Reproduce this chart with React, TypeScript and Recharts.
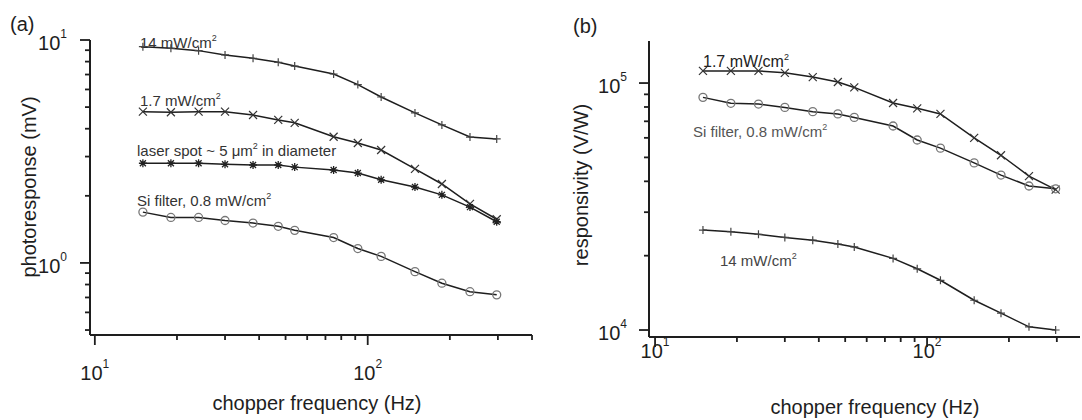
import { LineChart, Line, XAxis, YAxis } from "recharts"

const FONT = '"Liberation Sans", Arial, Helvetica, sans-serif'
const INK = "#1e1e1e"

// chopper frequency (Hz), shared by every curve
const freqs = [15, 19, 24, 30, 38, 47, 54, 75, 92, 112, 149, 187, 237, 297]

// (a) photoresponse (mV)
const a14 = [9.33, 9.18, 8.96, 8.57, 8.28, 7.94, 7.64, 7.04, 6.31, 5.55, 4.71, 4.16, 3.67, 3.6]
const a17 = [4.77, 4.74, 4.77, 4.77, 4.61, 4.38, 4.25, 3.68, 3.45, 3.21, 2.64, 2.26, 1.84, 1.57]
const aLaser = [2.8, 2.8, 2.8, 2.77, 2.75, 2.75, 2.69, 2.61, 2.53, 2.36, 2.19, 2.02, 1.78, 1.53]
const aSi = [1.69, 1.6, 1.6, 1.55, 1.51, 1.46, 1.4, 1.3, 1.16, 1.07, 0.914, 0.811, 0.743, 0.719]

// (b) responsivity (V/W)
const b17 = [112000, 112000, 112000, 110000, 105700, 101000, 96000, 83000, 79000, 75000, 60000, 51000, 42000, 37000]
const bSi = [87500, 82800, 82200, 79700, 76600, 75000, 72600, 67000, 58800, 54500, 47500, 42400, 38300, 37300]
const b14 = [25400, 25000, 24400, 23700, 23100, 22300, 21700, 19500, 17700, 15900, 13200, 11700, 10300, 10000]

const xTicksA = [10, 20, 30, 40, 50, 60, 70, 80, 90, 100, 200, 300, 400]
const xTicksB = [10, 20, 30, 40, 50, 60, 70, 80, 90, 100, 200, 300]
const yTicksA = [0.5, 0.6, 0.7, 0.8, 0.9, 1, 2, 3, 4, 5, 6, 7, 8, 9, 10]
const yTicksB = [10000, 20000, 30000, 40000, 50000, 60000, 70000, 80000, 90000, 100000]

const dataA = freqs.map((f, i) => ({ f, s14: a14[i], s17: a17[i], laser: aLaser[i], si: aSi[i] }))
const dataB = freqs.map((f, i) => ({ f, s14: b14[i], s17: b17[i], si: bSi[i] }))

const isMajor = (v: number) => Math.abs(Math.log10(v) - Math.round(Math.log10(v))) < 1e-6

// tick props x/y sit tickSize + tickMargin (5 + 2) away from the axis line
const OFF = 7

const makeXTick = (labelDy: number) => (props: any) => {
  const { x, y, payload } = props
  const v = payload.value
  const axisY = y - OFF
  const major = isMajor(v)
  return (
    <g>
      <line x1={x} x2={x} y1={axisY} y2={axisY + (major ? 10 : 5)} stroke={INK} strokeWidth={1.8} />
      {major && (
        <text x={x} y={axisY + labelDy} textAnchor="middle" dominantBaseline="central" fontSize={20} fill={INK} fontFamily={FONT}>
          10
          <tspan dy={-9} fontSize={12}>{Math.round(Math.log10(v))}</tspan>
        </text>
      )}
    </g>
  )
}

const makeYTick = (labelDx: number) => (props: any) => {
  const { x, y, payload } = props
  const v = payload.value
  const axisX = x + OFF
  const major = isMajor(v)
  return (
    <g>
      <line x1={axisX} x2={axisX - (major ? 10 : 5)} y1={y} y2={y} stroke={INK} strokeWidth={1.8} />
      {major && (
        <text x={axisX - labelDx} y={y + 3} textAnchor="end" dominantBaseline="central" fontSize={20} fill={INK} fontFamily={FONT}>
          10
          <tspan dy={-9} fontSize={12}>{Math.round(Math.log10(v))}</tspan>
        </text>
      )}
    </g>
  )
}

const plusDot = (p: any) => (
  <path key={p.index} d={`M${p.cx - 4},${p.cy}h8M${p.cx},${p.cy - 4}v8`} stroke="#444" strokeWidth={1.2} fill="none" />
)
const crossDot = (p: any) => (
  <path key={p.index} d={`M${p.cx - 4},${p.cy - 4}l8,8M${p.cx - 4},${p.cy + 4}l8,-8`} stroke="#333" strokeWidth={1.2} fill="none" />
)
const starDot = (p: any) => (
  <path
    key={p.index}
    d={`M${p.cx - 4},${p.cy}h8M${p.cx},${p.cy - 4}v8M${p.cx - 3},${p.cy - 3}l6,6M${p.cx - 3},${p.cy + 3}l6,-6`}
    stroke="#222"
    strokeWidth={1.3}
    fill="none"
  />
)
const circleDot = (p: any) => <circle key={p.index} cx={p.cx} cy={p.cy} r={4} fill="none" stroke="#777" strokeWidth={1.3} />

const Sup = ({ children }: { children: string }) => (
  <tspan dy={-7} fontSize={9}>
    {children}
  </tspan>
)

export default function App() {
  const lineProps = { type: "linear" as const, stroke: INK, strokeWidth: 1.5, isAnimationActive: false }
  return (
    <div style={{ position: "absolute", left: 0, top: 0, width: 1082, height: 420, background: "#fff", overflow: "hidden" }}>
      <svg width={1082} height={420} style={{ position: "absolute", left: 0, top: 0 }} fontFamily={FONT}>
        <text x={10} y={31} fontSize={20} fill={INK}>(a)</text>
        <text x={573} y={33} fontSize={20} fill={INK}>(b)</text>

        <text x={317} y={410} textAnchor="middle" fontSize={20} fill={INK}>chopper frequency (Hz)</text>
        <text x={875} y={414} textAnchor="middle" fontSize={20} fill={INK}>chopper frequency (Hz)</text>
        <text transform="translate(36,187) rotate(-90)" textAnchor="middle" fontSize={20} fill={INK}>photoresponse (mV)</text>
        <text transform="translate(588,185) rotate(-90)" textAnchor="middle" fontSize={20} fill={INK}>responsivity (V/W)</text>

        <g fontSize={15} fill="#333">
          <text x={140} y={48}>14 mW/cm<Sup>2</Sup></text>
          <text x={140} y={106}>1.7 mW/cm<Sup>2</Sup></text>
          <text x={137} y={156}>laser spot ~ 5 μm<Sup>2</Sup><tspan dy={7}> in diameter</tspan></text>
          <text x={137} y={206}>Si filter, 0.8 mW/cm<Sup>2</Sup></text>
          <text x={703} y={67} fontSize={16} fill="#222">1.7 mW/cm<Sup>2</Sup></text>
          <text x={693} y={137} fill="#555">Si filter, 0.8 mW/cm<Sup>2</Sup></text>
          <text x={720} y={266} fill="#444">14 mW/cm<Sup>2</Sup></text>
        </g>
      </svg>
      <div style={{ position: "absolute", left: 0, top: 0 }}>
        <LineChart width={560} height={420} data={dataA} margin={{ top: 40, right: 28, bottom: 0, left: 0 }}>
          <XAxis
            dataKey="f"
            type="number"
            scale="log"
            domain={[9.6, 400]}
            allowDataOverflow
            ticks={xTicksA}
            interval={0}
            height={85}
            tickSize={5}
            tickLine={false}
            axisLine={{ stroke: INK, strokeWidth: 2 }}
            tick={makeXTick(38)}
          />
          <YAxis
            type="number"
            scale="log"
            domain={[0.475, 10]}
            allowDataOverflow
            ticks={yTicksA}
            interval={0}
            width={90}
            tickSize={5}
            tickLine={false}
            axisLine={{ stroke: INK, strokeWidth: 2 }}
            tick={makeYTick(23)}
          />
          <Line dataKey="s14" {...lineProps} dot={plusDot} />
          <Line dataKey="s17" {...lineProps} dot={crossDot} />
          <Line dataKey="laser" {...lineProps} dot={starDot} />
          <Line dataKey="si" {...lineProps} dot={circleDot} />
        </LineChart>
      </div>
      <div style={{ position: "absolute", left: 540, top: 0 }}>
        <LineChart width={542} height={420} data={dataB} margin={{ top: 41, right: 2, bottom: 0, left: 0 }}>
          <XAxis
            dataKey="f"
            type="number"
            scale="log"
            domain={[9.5, 365]}
            allowDataOverflow
            ticks={xTicksB}
            interval={0}
            height={83}
            tickSize={5}
            tickLine={false}
            axisLine={{ stroke: INK, strokeWidth: 2 }}
            tick={makeXTick(14)}
          />
          <YAxis
            type="number"
            scale="log"
            domain={[9370, 148000]}
            allowDataOverflow
            ticks={yTicksB}
            interval={0}
            width={109}
            tickSize={5}
            tickLine={false}
            axisLine={{ stroke: INK, strokeWidth: 2 }}
            tick={makeYTick(22)}
          />
          <Line dataKey="s17" {...lineProps} dot={crossDot} />
          <Line dataKey="si" {...lineProps} dot={circleDot} />
          <Line dataKey="s14" {...lineProps} dot={plusDot} />
        </LineChart>
      </div>
    </div>
  )
}
